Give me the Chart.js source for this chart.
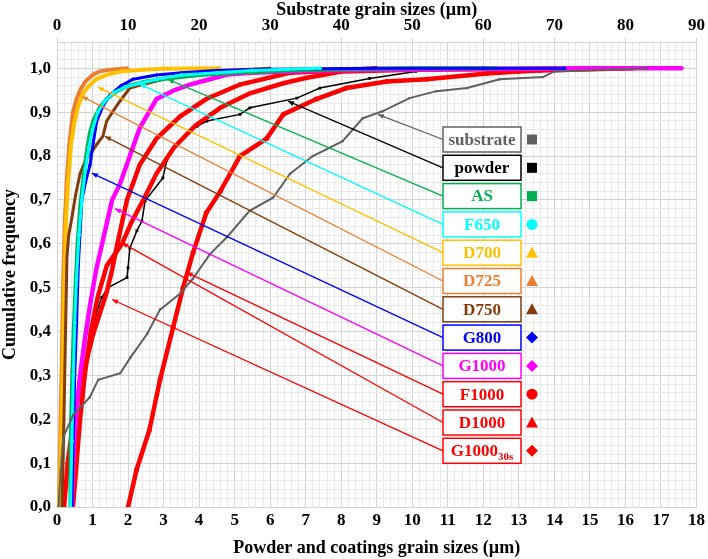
<!DOCTYPE html>
<html>
<head>
<meta charset="utf-8">
<script src="https://cdn.jsdelivr.net/npm/chart.js@4/dist/chart.umd.min.js"></script>
<style>
  html, body { margin: 0; padding: 0; background: #fff; }
  #box { width: 708px; height: 559px; }
</style>
</head>
<body>
<div id="box"><canvas id="grafico"></canvas></div>
<script>
// substrate uses the top axis (0-90 um), the others the bottom axis (0-18 um)
var substrateX = [0.2, 0.5, 0.9, 2.3, 4.6, 5.8, 8.9, 10.3, 12.7, 14.5, 17.3, 19.1, 21.5, 23.9, 27.1, 30.4, 32.8, 36, 40.2, 43, 45.8, 49.6, 53.4, 57.7, 62.3, 68.4, 70, 83];
var substrateY = [0, 0.08, 0.16, 0.21, 0.25, 0.29, 0.305, 0.34, 0.395, 0.45, 0.486, 0.52, 0.576, 0.615, 0.675, 0.705, 0.76, 0.8, 0.834, 0.886, 0.902, 0.932, 0.948, 0.955, 0.975, 0.98, 0.993, 1.0];

var powderX = [0.42, 0.45, 0.56, 0.65, 0.73, 0.84, 1.02, 1.16, 1.26, 1.44, 1.97, 2.0, 2.05, 2.25, 2.39, 2.48, 2.98, 3.09, 3.18, 3.38, 3.74, 3.94, 4.22, 5.15, 5.43, 6.75, 7.4, 8.8, 10.1, 10.8];
var powderY = [0.023, 0.114, 0.16, 0.213, 0.25, 0.34, 0.41, 0.455, 0.478, 0.5, 0.523, 0.545, 0.59, 0.63, 0.652, 0.698, 0.75, 0.79, 0.805, 0.827, 0.857, 0.868, 0.88, 0.895, 0.91, 0.932, 0.955, 0.977, 0.993, 1.0];

var asX = [0.37, 0.38, 0.4, 0.43, 0.47, 0.52, 0.58, 0.65, 0.73, 0.82, 0.92, 1.02, 1.2, 1.4, 1.68, 2.0, 2.5, 3.1, 4, 5, 6.5, 8, 10, 12.4];
var asY = [0, 0.1, 0.2, 0.3, 0.4, 0.5, 0.6, 0.68, 0.74, 0.8, 0.85, 0.88, 0.91, 0.93, 0.948, 0.96, 0.97, 0.977, 0.985, 0.99, 0.995, 0.998, 1.0, 1.0];

var f650X = [0.38, 0.42, 0.46, 0.5, 0.55, 0.62, 0.7, 0.8, 0.9, 1.0, 1.15, 1.35, 1.6, 1.9, 2.33, 2.8, 3.5, 4.5, 5.5, 6.5, 7.4];
var f650Y = [0, 0.15, 0.3, 0.42, 0.52, 0.62, 0.7, 0.77, 0.82, 0.86, 0.9, 0.925, 0.945, 0.957, 0.966, 0.975, 0.985, 0.99, 0.995, 0.998, 1.0];

var d700X = [0.05, 0.1, 0.13, 0.17, 0.2, 0.25, 0.32, 0.4, 0.5, 0.6, 0.75, 0.9, 1.1, 1.4, 1.8, 2.4, 3.0, 4.6];
var d700Y = [0, 0.1, 0.2, 0.35, 0.5, 0.65, 0.75, 0.83, 0.88, 0.915, 0.945, 0.96, 0.975, 0.985, 0.993, 0.997, 0.999, 1.0];

var d725X = [0.05, 0.08, 0.1, 0.13, 0.17, 0.22, 0.28, 0.35, 0.45, 0.55, 0.65, 0.8, 1.0, 1.2, 1.5, 2.0];
var d725Y = [0, 0.1, 0.2, 0.3, 0.5, 0.65, 0.75, 0.83, 0.9, 0.93, 0.95, 0.97, 0.985, 0.993, 0.997, 1.0];

var d750X = [0.14, 0.17, 0.2, 0.24, 0.28, 0.33, 0.42, 0.52, 0.65, 0.8, 0.98, 1.15, 1.29, 1.4, 1.6, 1.77, 2.05, 2.5, 3.1, 4.1, 6];
var d750Y = [0, 0.1, 0.22, 0.4, 0.57, 0.62, 0.66, 0.71, 0.76, 0.79, 0.81, 0.83, 0.845, 0.88, 0.905, 0.925, 0.955, 0.965, 0.977, 0.993, 1.0];

var g800X = [0.42, 0.44, 0.47, 0.5, 0.55, 0.6, 0.7, 0.8, 0.93, 1.02, 1.12, 1.3, 1.5, 1.8, 2.14, 2.8, 3.5, 4.5, 6, 8.9, 12, 14.3];
var g800Y = [0, 0.1, 0.2, 0.3, 0.42, 0.55, 0.7, 0.74, 0.78, 0.83, 0.88, 0.915, 0.94, 0.96, 0.975, 0.985, 0.99, 0.995, 0.998, 1.0, 1.0, 1.0];

var g1000X = [0.42, 0.45, 0.5, 0.57, 0.65, 0.78, 0.93, 1.1, 1.27, 1.55, 1.77, 2.05, 2.33, 2.8, 3.3, 3.74, 4.3, 4.78, 5.5, 6.5, 7.5, 9, 15.2, 17.6];
var g1000Y = [0, 0.1, 0.17, 0.24, 0.3, 0.38, 0.46, 0.54, 0.6, 0.7, 0.736, 0.8, 0.864, 0.93, 0.95, 0.963, 0.975, 0.986, 0.99, 0.993, 0.995, 0.997, 1.0, 1.0];

var f1000X = [2.0, 2.24, 2.6, 2.9, 3.27, 3.55, 3.83, 4.2, 4.6, 5.15, 5.9, 6.37, 7.3, 8.15, 9.28, 10.4, 12.1, 13.0, 13.6, 16.2];
var f1000Y = [0, 0.085, 0.175, 0.29, 0.41, 0.5, 0.58, 0.67, 0.72, 0.8, 0.84, 0.895, 0.93, 0.955, 0.97, 0.975, 0.988, 0.993, 0.995, 1.0];

var d1000X = [0.45, 0.55, 0.65, 0.78, 0.95, 1.15, 1.4, 1.83, 2.1, 2.43, 2.8, 3.3, 3.9, 4.6, 5.43, 6.37, 7.0, 8.05, 10, 16];
var d1000Y = [0, 0.1, 0.2, 0.3, 0.4, 0.48, 0.55, 0.6, 0.65, 0.7, 0.76, 0.82, 0.87, 0.91, 0.943, 0.966, 0.978, 0.993, 0.997, 1.0];

var g30sX = [0.2, 0.25, 0.3, 0.4, 0.52, 0.65, 0.82, 1.02, 1.2, 1.4, 1.55, 1.7, 1.97, 2.33, 2.8, 3.46, 4.2, 5.15, 6.55, 8, 9];
var g30sY = [0, 0.05, 0.1, 0.16, 0.22, 0.27, 0.33, 0.395, 0.44, 0.49, 0.54, 0.6, 0.7, 0.78, 0.84, 0.89, 0.93, 0.963, 0.99, 0.995, 1.0];

// leader lines: where each arrow touches its curve (bottom axis units)
var leaderX = [9.03, 6.5, 3.12, 2.33, 1.15, 0.70, 1.35, 0.98, 1.63, 3.65, 1.83, 1.55];
var leaderY = [0.895, 0.925, 0.975, 0.964, 0.957, 0.936, 0.845, 0.761, 0.68, 0.535, 0.602, 0.473];

var labels = ['substrate', 'powder', 'AS', 'F650', 'D700', 'D725', 'D750', 'G800', 'G1000', 'F1000', 'D1000', 'G1000'];
var colors = ['#606060', '#000000', '#00B050', '#00FFFF', '#FFC000', '#ED7D31', '#843C0C', '#0000FF', '#FF00FF', '#FF0000', '#FF0000', '#FF0000'];
var markers = ['rect', 'rect', 'rect', 'circle', 'triangle', 'triangle', 'triangle', 'rectRot', 'rectRot', 'circle', 'triangle', 'rectRot'];

var xTicks = [0, 1, 2, 3, 4, 5, 6, 7, 8, 9, 10, 11, 12, 13, 14, 15, 16, 17, 18];
var x2Ticks = [0, 10, 20, 30, 40, 50, 60, 70, 80, 90];
var yTicks = [0, 0.1, 0.2, 0.3, 0.4, 0.5, 0.6, 0.7, 0.8, 0.9, 1.0];

function pts(xs, ys) {
	return xs.map(function(v, i){ return {x: v, y: ys[i]}; });
}

function serie(i, xs, ys, width, radius, axis) {
	return {
		label: labels[i],
		data: pts(xs, ys),
		showLine: true,
		borderColor: colors[i],
		backgroundColor: colors[i],
		borderWidth: width,
		pointStyle: markers[i],
		pointRadius: radius,
		pointBorderWidth: 0,
		tension: 0,
		xAxisID: axis || 'x'
	};
}

var font = 'Liberation Serif';

function drawMarker(ctx, style, x, y, r, color) {
	ctx.fillStyle = color;
	ctx.beginPath();
	if (style == 'rect') {
		ctx.rect(x - r, y - r, 2 * r, 2 * r);
	} else if (style == 'circle') {
		ctx.arc(x, y, r + 0.5, 0, Math.PI * 2);
	} else if (style == 'triangle') {
		ctx.moveTo(x, y - r - 1);
		ctx.lineTo(x + r + 1, y + r);
		ctx.lineTo(x - r - 1, y + r);
		ctx.closePath();
	} else {
		ctx.moveTo(x, y - r - 1);
		ctx.lineTo(x + r + 1, y);
		ctx.lineTo(x, y + r + 1);
		ctx.lineTo(x - r - 1, y);
		ctx.closePath();
	}
	ctx.fill();
}

var legendBoxes = {
	id: 'legendBoxes',
	afterDatasetsDraw: function(chart) {
		var ctx = chart.ctx, area = chart.chartArea;
		var xs = chart.scales.x, ys = chart.scales.y;
		ctx.save();
		for (var i = 0; i < labels.length; i++) {
			var bx = area.left + 386, by = area.top + 85 + i * 28.3;
			var bw = 78, bh = 25;
			var sx = xs.getPixelForValue(leaderX[i]);
			var sy = ys.getPixelForValue(leaderY[i]);
			var ex = bx, ey = by + bh / 2;
			// leader line
			ctx.strokeStyle = colors[i];
			ctx.lineWidth = 1.3;
			ctx.beginPath();
			ctx.moveTo(sx, sy);
			ctx.lineTo(ex, ey);
			ctx.stroke();
			// arrow head at the curve
			var a = Math.atan2(sy - ey, sx - ex);
			ctx.fillStyle = colors[i];
			ctx.beginPath();
			ctx.moveTo(sx, sy);
			ctx.lineTo(sx - 6 * Math.cos(a) + 2.5 * Math.sin(a), sy - 6 * Math.sin(a) - 2.5 * Math.cos(a));
			ctx.lineTo(sx - 6 * Math.cos(a) - 2.5 * Math.sin(a), sy - 6 * Math.sin(a) + 2.5 * Math.cos(a));
			ctx.closePath();
			ctx.fill();
			// box
			ctx.fillStyle = '#fff';
			ctx.fillRect(bx, by, bw, bh);
			ctx.lineWidth = 1.5;
			ctx.strokeStyle = colors[i];
			ctx.strokeRect(bx, by, bw, bh);
			// label
			ctx.fillStyle = colors[i];
			ctx.textBaseline = 'middle';
			ctx.font = 'bold 17px ' + font;
			if (i == 11) {
				var w1 = ctx.measureText(labels[i]).width;
				ctx.font = 'bold 11px ' + font;
				var w2 = ctx.measureText('30s').width;
				var x0 = bx + (bw - w1 - w2) / 2;
				ctx.font = 'bold 17px ' + font;
				ctx.textAlign = 'left';
				ctx.fillText(labels[i], x0, by + bh / 2 + 1);
				ctx.font = 'bold 11px ' + font;
				ctx.fillText('30s', x0 + w1, by + bh / 2 + 6);
			} else {
				ctx.textAlign = 'center';
				ctx.fillText(labels[i], bx + bw / 2, by + bh / 2 + 1);
			}
			drawMarker(ctx, markers[i], bx + 89, by + bh / 2, 5, colors[i]);
		}
		ctx.restore();
	}
};

function exibirGrafico() {
	var datasets = [
		serie(0, substrateX, substrateY, 2, 1.6, 'x2'),
		serie(3, f650X, f650Y, 3, 2),
		serie(7, g800X, g800Y, 3, 2),
		serie(2, asX, asY, 4, 2),
		serie(6, d750X, d750Y, 3, 1.8),
		serie(4, d700X, d700Y, 4, 2),
		serie(5, d725X, d725Y, 4, 2),
		serie(8, g1000X, g1000Y, 4.5, 2),
		serie(9, f1000X, f1000Y, 4.5, 2.5),
		serie(11, g30sX, g30sY, 4.5, 2.5),
		serie(10, d1000X, d1000Y, 4.5, 2.5),
		serie(1, powderX, powderY, 1.5, 2)
	];

	var tickFont = {family: font, size: 17, weight: 'bold'};
	var titleFont = {family: font, size: 18, weight: 'bold'};

	var options = {
		responsive: true,
		maintainAspectRatio: false,
		animation: false,
		layout: {padding: {left: 0, right: 11, top: 0, bottom: 0}},
		plugins: {
			legend: {display: false},
			tooltip: {enabled: false}
		},
		scales: {
			x: {
				type: 'linear', position: 'bottom', min: 0, max: 18,
				afterBuildTicks: function(s) {
					var t = [];
					for (var k = 0; k <= 90; k++) t.push({value: k / 5});
					s.ticks = t;
				},
				afterFit: function(s) { s.height = 52; },
				ticks: {
					font: tickFont, color: '#000', padding: 3, autoSkip: false, maxRotation: 0,
					callback: function(v) { return xTicks.indexOf(Math.round(v * 1000) / 1000) >= 0 ? String(Math.round(v)) : ''; }
				},
				grid: {
					drawTicks: false,
					color: function(c) { return Math.abs(c.tick.value - Math.round(c.tick.value)) < 1e-6 ? '#D4D4D4' : '#EAEAEA'; }
				},
				border: {color: '#D4D4D4'},
				title: {display: true, text: 'Powder and coatings grain sizes (\u00b5m)', font: titleFont, color: '#000', padding: {top: 2, bottom: 0}}
			},
			x2: {
				type: 'linear', position: 'top', min: 0, max: 90,
				afterBuildTicks: function(s) { s.ticks = x2Ticks.map(function(v){ return {value: v}; }); },
				afterFit: function(s) { s.height = 42; },
				ticks: {font: tickFont, color: '#000', padding: 2, autoSkip: false, maxRotation: 0},
				grid: {drawOnChartArea: false, drawTicks: true, tickLength: 4, color: '#D4D4D4'},
				border: {color: '#D4D4D4'},
				title: {display: true, text: 'Substrate grain sizes (\u00b5m)', font: titleFont, color: '#000', padding: {top: 0, bottom: 0}}
			},
			y: {
				type: 'linear', min: 0, max: 1.06,
				afterBuildTicks: function(s) {
					var t = [];
					for (var k = 0; k <= 53; k++) t.push({value: k / 50});
					s.ticks = t;
				},
				afterFit: function(s) { s.width = 57; },
				ticks: {
					font: tickFont, color: '#000', padding: 6, autoSkip: false,
					callback: function(v) {
						var r = Math.round(v * 1000) / 1000;
						return yTicks.indexOf(r) >= 0 ? r.toFixed(1).replace('.', ',') : '';
					}
				},
				grid: {
					drawTicks: false,
					color: function(c) { return Math.abs(c.tick.value * 10 - Math.round(c.tick.value * 10)) < 1e-6 ? '#D4D4D4' : '#EAEAEA'; }
				},
				border: {color: '#D4D4D4'},
				title: {display: true, text: 'Cumulative frequency', font: titleFont, color: '#000', padding: {top: 0, bottom: 0}}
			}
		}
	};

	var ctx = document.getElementById('grafico').getContext('2d');
	new Chart(ctx, {type: 'scatter', data: {datasets: datasets}, options: options, plugins: [legendBoxes]});
}

exibirGrafico();
</script>
</body>
</html>
